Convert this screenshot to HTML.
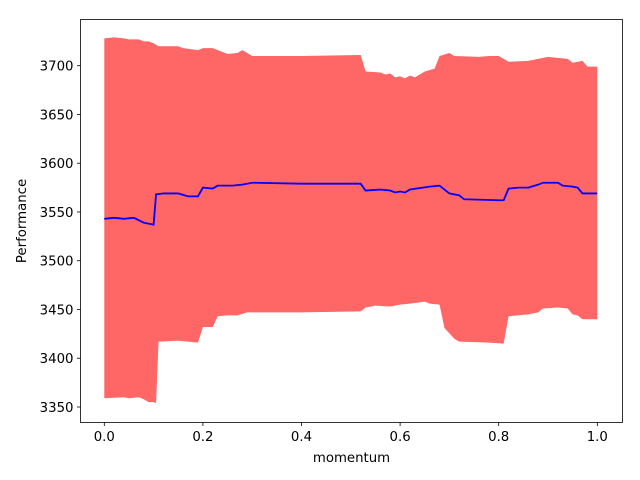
<!DOCTYPE html>
<html><head><meta charset="utf-8"><style>
body{margin:0;background:#fff}
svg{display:block;font-family:"DejaVu Sans","Liberation Sans",sans-serif}
</style></head><body>
<svg id="chart" width="640" height="480"></svg>
<script>
const meanX=[0,0.02,0.04,0.06,0.08,0.1,0.105,0.12,0.15,0.17,0.19,0.2,0.22,0.23,0.26,0.28,0.3,0.4,0.5,0.52,0.53,0.56,0.58,0.59,0.6,0.61,0.62,0.66,0.68,0.7,0.72,0.73,0.8,0.81,0.82,0.84,0.86,0.88,0.89,0.92,0.93,0.95,0.96,0.97,1.0];
const meanY=[3543,3544,3543,3544,3539,3537,3568,3569,3569,3566,3566,3575,3574,3577,3577,3578,3580,3579,3579,3579,3572,3573,3572,3570,3571,3570,3573,3576,3577,3569,3567,3563,3562,3562,3574,3575,3575,3578,3580,3580,3577,3576,3575,3569,3569];
const upX=[0,0.02,0.04,0.05,0.07,0.08,0.09,0.1,0.11,0.15,0.16,0.19,0.2,0.22,0.24,0.25,0.27,0.28,0.3,0.4,0.52,0.53,0.56,0.57,0.58,0.59,0.6,0.61,0.62,0.63,0.65,0.67,0.68,0.7,0.71,0.76,0.78,0.8,0.82,0.86,0.9,0.92,0.94,0.95,0.97,0.98,1.0];
const upY=[3728,3729,3728,3727,3727,3725,3725,3723,3720,3720,3718,3716,3718,3718,3714,3712,3713,3716,3710,3710,3711,3694,3693,3691,3692,3688,3689,3687,3690,3688,3694,3697,3710,3713,3710,3709,3710,3710,3704,3705,3709,3708,3707,3703,3705,3699,3699];
const loX=[0,0.04,0.05,0.07,0.08,0.09,0.1,0.105,0.11,0.15,0.17,0.19,0.2,0.22,0.23,0.25,0.27,0.29,0.4,0.52,0.53,0.55,0.58,0.6,0.62,0.65,0.66,0.68,0.69,0.71,0.72,0.78,0.81,0.82,0.86,0.88,0.89,0.92,0.94,0.95,0.96,0.97,1.0];
const loY=[3359,3360,3359,3360,3358,3355,3355,3354,3417,3418,3417,3416,3432,3432,3443,3444,3444,3447,3447,3448,3452,3454,3453,3455,3456,3458,3456,3455,3431,3420,3417,3416,3415,3443,3445,3447,3451,3452,3451,3445,3444,3440,3440];
const xTicks=[0,0.2,0.4,0.6,0.8,1.0];
const yTicks=[3350,3400,3450,3500,3550,3600,3650,3700];

const L=80.5,R=622.5,T=19.5,B=422.5;
const sx=v=>104.3+v*493;
const sy=v=>65.7+(3700-v)*(407-65.7)/350;
const svg=document.getElementById('chart');
const NS='http://www.w3.org/2000/svg';
function mk(t,a){const e=document.createElementNS(NS,t);for(const k in a)e.setAttribute(k,a[k]);svg.appendChild(e);return e;}

let d='M'+upX.map((x,i)=>sx(x)+','+sy(upY[i])).join(' L');
for(let i=loX.length-1;i>=0;i--) d+=' L'+sx(loX[i])+','+sy(loY[i]);
const band=mk('path',{d:d+'Z',fill:'#ff6666',stroke:'none'});



const line=mk('polyline',{points:meanX.map((x,i)=>sx(x)+','+sy(meanY[i])).join(' '),fill:'none',stroke:'#0000ff','stroke-width':1.8});



const frame=mk('rect',{x:L,y:T,width:R-L,height:B-T,fill:'none',stroke:'#000','stroke-width':0.8});



xTicks.forEach(v=>{
  const x=sx(v);
  const tk=mk('line',{x1:x,x2:x,y1:B,y2:B+3.5,stroke:'#000','stroke-width':0.8});
  
  
  const t=mk('text',{x:x,y:B+18.5,'font-size':13.3,'text-anchor':'middle',fill:'#000'});
  t.textContent=v.toFixed(1);
  
  
});
yTicks.forEach(v=>{
  const y=sy(v);
  const tk=mk('line',{x1:L-3.5,x2:L,y1:y,y2:y,stroke:'#000','stroke-width':0.8});
  
  
  const t=mk('text',{x:L-7,y:y+5,'font-size':13.3,'text-anchor':'end',fill:'#000'});
  t.textContent=v;
  
  
});
const xl=mk('text',{x:(L+R)/2,y:462,'font-size':13.3,'text-anchor':'middle',fill:'#000'});
xl.textContent='momentum';


const yl=mk('text',{x:0,y:0,'font-size':13.3,'text-anchor':'middle',fill:'#000',transform:'translate(26,221) rotate(-90)'});
yl.textContent='Performance';


</script>
</body></html>
